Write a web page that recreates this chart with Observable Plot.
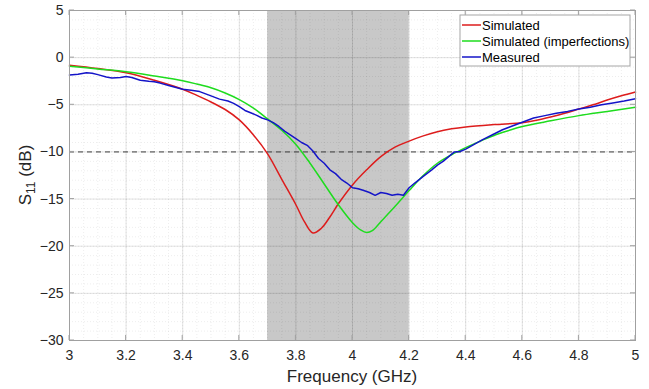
<!DOCTYPE html>
<html>
<head>
<meta charset="utf-8">
<script src="https://cdn.jsdelivr.net/npm/d3@7"></script>
<script src="https://cdn.jsdelivr.net/npm/@observablehq/plot@0.6"></script>
<style>
  html, body { margin: 0; padding: 0; background: #fff; }
  #wrap { position: relative; width: 649px; height: 389px; }
</style>
</head>
<body>
<div id="wrap"></div>
<script>
// ---- Data ----
const xTicks = [3, 3.2, 3.4, 3.6, 3.8, 4, 4.2, 4.4, 4.6, 4.8, 5];
const yTicks = [-30, -25, -20, -15, -10, -5, 0, 5];
const band = [3.7, 4.2];
const threshold = [-10];
const seriesNames = ["Simulated", "Simulated (imperfections)", "Measured"];
const seriesColors = ["#dd1c1c", "#1edc1e", "#1414c8"];

const simF = [3.00,3.10,3.20,3.30,3.40,3.45,3.50,3.55,3.60,3.65,3.70,3.75,3.80,3.83,3.86,3.89,3.92,3.95,4.00,4.05,4.10,4.15,4.20,4.25,4.30,4.35,4.40,4.50,4.60,4.65,4.70,4.75,4.80,4.85,4.90,4.95,5.00];
const simS = [-0.8,-1.15,-1.6,-2.4,-3.35,-4.0,-4.7,-5.5,-6.6,-8.2,-10.2,-12.9,-15.6,-17.4,-18.6,-18.1,-16.9,-15.5,-13.5,-11.9,-10.5,-9.5,-8.85,-8.3,-7.85,-7.55,-7.35,-7.1,-6.9,-6.65,-6.3,-5.9,-5.45,-5.0,-4.5,-4.05,-3.65];

const impF = [3.00,3.10,3.20,3.30,3.40,3.45,3.50,3.55,3.60,3.65,3.70,3.75,3.80,3.85,3.90,3.95,4.00,4.03,4.05,4.07,4.10,4.15,4.20,4.25,4.30,4.35,4.40,4.46,4.50,4.55,4.60,4.70,4.80,4.90,5.00];
const impS = [-0.9,-1.2,-1.5,-1.95,-2.45,-2.8,-3.2,-3.75,-4.45,-5.35,-6.5,-7.7,-9.2,-11.2,-13.4,-15.6,-17.5,-18.3,-18.55,-18.35,-17.4,-15.8,-14.1,-12.5,-11.2,-10.3,-9.55,-8.75,-8.25,-7.75,-7.3,-6.7,-6.15,-5.7,-5.25];

const measF = [3.00,3.03,3.06,3.08,3.10,3.13,3.15,3.18,3.20,3.22,3.25,3.28,3.30,3.32,3.35,3.38,3.40,3.43,3.46,3.50,3.53,3.56,3.58,3.60,3.62,3.64,3.66,3.68,3.70,3.72,3.74,3.76,3.78,3.80,3.82,3.84,3.86,3.88,3.90,3.92,3.94,3.96,3.98,4.00,4.02,4.04,4.06,4.08,4.10,4.12,4.14,4.16,4.18,4.20,4.22,4.25,4.28,4.30,4.32,4.34,4.36,4.38,4.40,4.43,4.46,4.50,4.53,4.56,4.60,4.64,4.68,4.72,4.76,4.80,4.84,4.88,4.92,4.96,5.00];
const measS = [-1.85,-1.75,-1.6,-1.65,-1.8,-2.05,-2.15,-2.1,-2.0,-2.1,-2.4,-2.5,-2.55,-2.7,-2.95,-3.2,-3.35,-3.45,-3.6,-4.05,-4.4,-4.6,-4.85,-5.2,-5.6,-5.85,-6.1,-6.4,-6.6,-6.9,-7.3,-7.8,-8.2,-8.6,-9.0,-9.3,-9.9,-10.7,-11.2,-11.9,-12.3,-12.9,-13.3,-13.8,-13.9,-14.1,-14.3,-14.6,-14.3,-14.4,-14.6,-14.5,-14.6,-13.8,-13.3,-12.6,-11.9,-11.4,-11.0,-10.5,-10.0,-9.95,-9.7,-9.2,-8.7,-8.1,-7.65,-7.3,-6.85,-6.4,-6.15,-5.9,-5.7,-5.45,-5.25,-5.0,-4.8,-4.6,-4.35];

// ---- Build tables ----
const toRows = (F, S) => F.map((f, i) => ({f, s: S[i]}));
const sim = toRows(simF, simS);
const imp = toRows(impF, impS);
const meas = toRows(measF, measS);
const minorX = d3.range(3, 5.0001, 0.05);
const minorY = d3.range(-30, 5.0001, 1);

const W = 649, H = 389;
const font = "'Liberation Sans', Arial, sans-serif";

const chart = Plot.plot({
  width: W, height: H,
  marginLeft: 69, marginRight: 14, marginTop: 10, marginBottom: 49,
  style: {fontFamily: font, fontSize: "14px", color: "#262626", background: "#fff", overflow: "visible"},
  x: {domain: [3, 5], label: null},
  y: {domain: [-30, 5], label: null},
  marks: [
    Plot.rect([band], {x1: d => d[0], x2: d => d[1], y1: -30, y2: 5, fill: "#c8c8c8"}),
    Plot.ruleX(minorX, {stroke: "#000", strokeOpacity: 0.07, strokeDasharray: "1,2"}),
    Plot.ruleY(minorY, {stroke: "#000", strokeOpacity: 0.07, strokeDasharray: "1,2"}),
    Plot.ruleX(xTicks, {stroke: "#000", strokeOpacity: 0.11}),
    Plot.ruleY(yTicks, {stroke: "#000", strokeOpacity: 0.11}),
    Plot.ruleY(threshold, {stroke: "#404040", strokeWidth: 1, strokeDasharray: "5,4"}),
    Plot.line(sim, {x: "f", y: "s", stroke: seriesColors[0], strokeWidth: 1.5, curve: "catmull-rom"}),
    Plot.line(imp, {x: "f", y: "s", stroke: seriesColors[1], strokeWidth: 1.5, curve: "catmull-rom"}),
    Plot.line(meas, {x: "f", y: "s", stroke: seriesColors[2], strokeWidth: 1.5}),
    Plot.frame({stroke: "#a0a0a0"}),
    Plot.axisX(xTicks, {tickSize: 0, tickPadding: 10, tickFormat: d3.format("~g"), fontSize: 14, fill: "#262626"}),
    Plot.axisY(yTicks, {tickSize: 0, tickPadding: 6, tickFormat: d3.format("~g"), fontSize: 14, fill: "#262626"})
  ]
});

document.getElementById("wrap").appendChild(chart);

// inside tick marks, using the plot's own scales
const sx = chart.scale("x"), sy = chart.scale("y");
const svg = d3.select(chart);
const x0 = sx.apply(3), x1 = sx.apply(5), y0 = sy.apply(-30), y1 = sy.apply(5);
const tg = svg.append("g").attr("stroke", "#a0a0a0").attr("stroke-width", 1);
xTicks.forEach(v => {
  const x = sx.apply(v);
  tg.append("line").attr("x1", x).attr("x2", x).attr("y1", y0).attr("y2", y0 - 5);
  tg.append("line").attr("x1", x).attr("x2", x).attr("y1", y1).attr("y2", y1 + 5);
});
yTicks.forEach(v => {
  const y = sy.apply(v);
  tg.append("line").attr("x1", x0).attr("x2", x0 + 5).attr("y1", y).attr("y2", y);
  tg.append("line").attr("x1", x1).attr("x2", x1 - 5).attr("y1", y).attr("y2", y);
});

// axis titles
svg.append("text")
  .attr("x", (x0 + x1) / 2).attr("y", 382)
  .attr("text-anchor", "middle").attr("font-size", 17).attr("fill", "#262626")
  .attr("font-family", font)
  .text("Frequency (GHz)");
const yl = svg.append("text")
  .attr("transform", `translate(31,${(y0 + y1) / 2}) rotate(-90)`)
  .attr("text-anchor", "middle").attr("font-size", 17).attr("fill", "#262626")
  .attr("font-family", font);
yl.append("tspan").text("S");
yl.append("tspan").attr("font-size", 12).attr("dy", 4).text("11");
yl.append("tspan").attr("dy", -4).text(" (dB)");

// legend (SVG)
const lgX = 460, lgY = 15, lgW = 170, lgH = 51, rowH = 16;
const lg = svg.append("g").attr("font-family", font).attr("font-size", 13).attr("text-anchor", "start");
lg.append("rect").attr("x", lgX).attr("y", lgY).attr("width", lgW).attr("height", lgH)
  .attr("fill", "#fff").attr("stroke", "#a6a6a6");
seriesNames.forEach((n, i) => {
  const cy = lgY + 10 + i * rowH;
  lg.append("line").attr("x1", lgX + 2).attr("x2", lgX + 21).attr("y1", cy).attr("y2", cy)
    .attr("stroke", seriesColors[i]).attr("stroke-width", 1.5);
  lg.append("text").attr("x", lgX + 22).attr("y", cy + 4.5).attr("text-anchor", "start")
    .attr("fill", "#000").text(n);
});
</script>
</body>
</html>
